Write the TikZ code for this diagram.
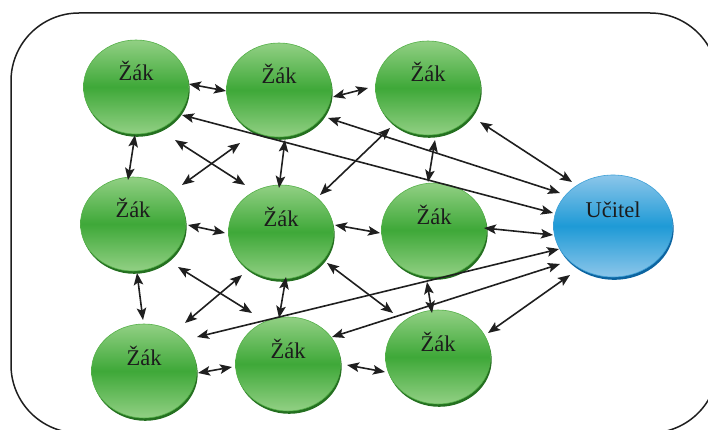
\documentclass[tikz,border=0pt]{standalone}
\usepackage{fontspec}
\setmainfont{Liberation Serif}
\usetikzlibrary{shapes.geometric,arrows.meta}
\definecolor{gl}{RGB}{146,208,132}
\definecolor{gd}{RGB}{62,168,56}
\definecolor{gedge}{RGB}{84,176,72}
\definecolor{gsh}{RGB}{36,112,32}
\definecolor{bl}{RGB}{140,198,234}
\definecolor{bd}{RGB}{30,154,214}
\definecolor{bedge}{RGB}{60,160,215}
\definecolor{bsh}{RGB}{12,100,160}
\definecolor{txt}{RGB}{28,28,28}
\definecolor{frm}{RGB}{30,30,30}
\tikzset{
  ball/.style={ellipse, inner sep=0pt, line width=0.6pt, text=txt,
    font=\fontsize{22.5}{24}\selectfont},
  zak/.style={ball, minimum width=105pt, minimum height=94pt,
    top color=gl, bottom color=gl, middle color=gd, draw=gedge,
    preaction={fill=gsh, transform canvas={xshift=1.2pt,yshift=-2.8pt}},
    text height=10pt, text depth=22pt},
  ucitel/.style={ball, minimum width=119pt, minimum height=102pt,
    top color=bl, bottom color=bl, middle color=bd, draw=bedge,
    preaction={fill=bsh, transform canvas={xshift=1.2pt,yshift=-2.8pt}},
    text height=10pt, text depth=26pt},
  link/.style={line width=1.6pt, draw=black!88,
    {Stealth[length=12pt,width=9.5pt,inset=2.5pt]}-{Stealth[length=12pt,width=9.5pt,inset=2.5pt]}},
  frame/.style={line width=1.5pt, draw=frm, rounded corners=68pt}
}
\begin{document}
\begin{tikzpicture}[x=1pt,y=-1pt]
\useasboundingbox (0,0) rectangle (708,430);
\begin{scope}
  \clip (0,0) rectangle (708,430);
  \draw[frame] (11,13) rectangle (718,433);
\end{scope}
% nodes
\node[zak] (n1) at (136,87) {Žák};
\node[zak] (n2) at (279,90) {Žák};
\node[zak] (n3) at (428,88) {Žák};
\node[zak] (n4) at (133,224) {Žák};
\node[zak] (n5) at (281,232) {Žák};
\node[zak] (n6) at (434,230) {Žák};
\node[ucitel] (t) at (613,226) {Učitel};
\node[zak] (n7) at (144,371) {Žák};
\node[zak] (n8) at (288,364) {Žák};
\node[zak] (n9) at (438,357) {Žák};
% connectors
\draw[link] ([shift={(53,-3)}]n1.center) -- ([shift={(-53,1)}]n2.center);
\draw[link] ([shift={(54,7)}]n2.center) -- ([shift={(-60,0)}]n3.center);
\draw[link] ([shift={(46,28)}]n1.center) -- ([shift={(-60,-13)}]t.center);
\draw[link] ([shift={(49,28)}]n2.center) -- ([shift={(-53,-33)}]t.center);
\draw[link] ([shift={(52,34)}]n3.center) -- ([shift={(-41,-44)}]t.center);
\draw[link] ([shift={(7,52)}]n3.center) -- ([shift={(-6,-48)}]n6.center);
\draw[link] ([shift={(-38,40)}]n3.center) -- ([shift={(39,-37)}]n5.center);
\draw[link] ([shift={(-1,48)}]n1.center) -- ([shift={(-5,-44)}]n4.center);
\draw[link] ([shift={(39,53)}]n1.center) -- ([shift={(-36,-47)}]n5.center);
\draw[link] ([shift={(-39,53)}]n2.center) -- ([shift={(49,-39)}]n4.center);
\draw[link] ([shift={(6,50)}]n2.center) -- ([shift={(-2,-44)}]n5.center);
\draw[link] ([shift={(55,1)}]n4.center) -- ([shift={(-56,1)}]n5.center);
\draw[link] ([shift={(54,-7)}]n5.center) -- ([shift={(-54,3)}]n6.center);
\draw[link] ([shift={(50,-2)}]n6.center) -- ([shift={(-60,9)}]t.center);
\draw[link] ([shift={(4,49)}]n4.center) -- ([shift={(-1,-51)}]n7.center);
\draw[link] ([shift={(45,43)}]n4.center) -- ([shift={(-36,-51)}]n8.center);
\draw[link] ([shift={(-39,43)}]n5.center) -- ([shift={(41,-48)}]n7.center);
\draw[link] ([shift={(5,45)}]n5.center) -- ([shift={(-9,-46)}]n8.center);
\draw[link] ([shift={(46,31)}]n5.center) -- ([shift={(-45,-44)}]n9.center);
\draw[link] ([shift={(-54,23)}]t.center) -- ([shift={(53,-34)}]n7.center);
\draw[link] ([shift={(-53,38)}]t.center) -- ([shift={(44,-27)}]n8.center);
\draw[link] ([shift={(-43,49)}]t.center) -- ([shift={(50,-24)}]n9.center);
\draw[link] ([shift={(-7,52)}]n6.center) -- ([shift={(-6,-44)}]n9.center);
\draw[link] ([shift={(54,2)}]n7.center) -- ([shift={(-56,3)}]n8.center);
\draw[link] ([shift={(59,1)}]n8.center) -- ([shift={(-53,15)}]n9.center);
\end{tikzpicture}
\end{document}
